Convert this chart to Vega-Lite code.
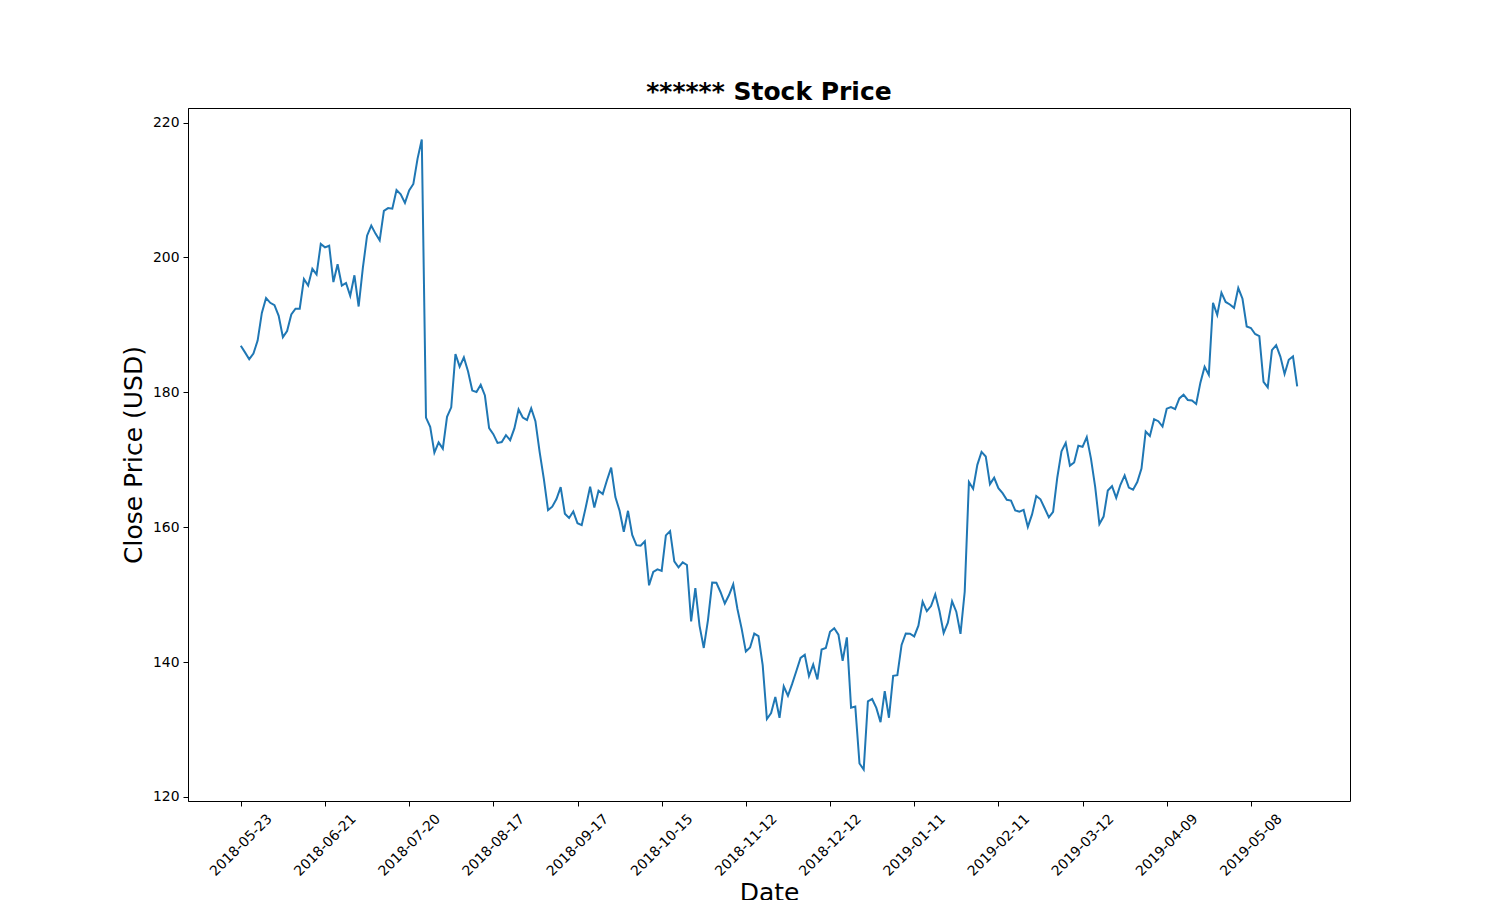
{
  "$schema": "https://vega.github.io/schema/vega-lite/v6.json",
  "autosize": {"type": "none"},
  "width": 1162,
  "height": 693,
  "padding": {"left": 188, "top": 108, "right": 150, "bottom": 99},
  "background": "white",
  "title": {"text": "****** Stock Price", "fontSize": 25, "fontWeight": "bold", "font": "DejaVu Sans", "color": "black", "anchor": "middle", "offset": 3},
  "config": {
    "font": "DejaVu Sans",
    "view": {"stroke": "black", "strokeWidth": 1},
    "axis": {"grid": false, "domainColor": "black", "tickColor": "black", "labelColor": "black", "titleColor": "black", "tickSize": 5, "labelFontSize": 13.9, "titleFontSize": 25, "titleFontWeight": "normal", "labelFont": "DejaVu Sans", "titleFont": "DejaVu Sans"}
  },
  "data": {"values": [
    {"date":"2018-05-23","close":186.90},{"date":"2018-05-24","close":185.93},{"date":"2018-05-25","close":184.92},{"date":"2018-05-29","close":185.74},{"date":"2018-05-30","close":187.67},{"date":"2018-05-31","close":191.78},{"date":"2018-06-01","close":193.99},{"date":"2018-06-04","close":193.28},{"date":"2018-06-05","close":192.94},{"date":"2018-06-06","close":191.34},{"date":"2018-06-07","close":188.18},{"date":"2018-06-08","close":189.10},{"date":"2018-06-11","close":191.54},{"date":"2018-06-12","close":192.40},{"date":"2018-06-13","close":192.41},{"date":"2018-06-14","close":196.81},{"date":"2018-06-15","close":195.85},{"date":"2018-06-18","close":198.31},{"date":"2018-06-19","close":197.49},{"date":"2018-06-20","close":202.00},
    {"date":"2018-06-21","close":201.50},{"date":"2018-06-22","close":201.74},{"date":"2018-06-25","close":196.35},{"date":"2018-06-26","close":199.00},{"date":"2018-06-27","close":195.84},{"date":"2018-06-28","close":196.23},{"date":"2018-06-29","close":194.32},{"date":"2018-07-02","close":197.36},{"date":"2018-07-03","close":192.73},{"date":"2018-07-05","close":198.45},{"date":"2018-07-06","close":203.23},{"date":"2018-07-09","close":204.74},{"date":"2018-07-10","close":203.54},{"date":"2018-07-11","close":202.54},{"date":"2018-07-12","close":206.92},{"date":"2018-07-13","close":207.32},{"date":"2018-07-16","close":207.23},{"date":"2018-07-17","close":209.99},{"date":"2018-07-18","close":209.36},{"date":"2018-07-19","close":208.09},
    {"date":"2018-07-20","close":209.94},{"date":"2018-07-23","close":210.91},{"date":"2018-07-24","close":214.67},{"date":"2018-07-25","close":217.50},{"date":"2018-07-26","close":176.26},{"date":"2018-07-27","close":174.89},{"date":"2018-07-30","close":171.06},{"date":"2018-07-31","close":172.58},{"date":"2018-08-01","close":171.65},{"date":"2018-08-02","close":176.37},{"date":"2018-08-03","close":177.78},{"date":"2018-08-06","close":185.69},{"date":"2018-08-07","close":183.81},{"date":"2018-08-08","close":185.18},{"date":"2018-08-09","close":183.09},{"date":"2018-08-10","close":180.26},{"date":"2018-08-13","close":180.05},{"date":"2018-08-14","close":181.11},{"date":"2018-08-15","close":179.53},{"date":"2018-08-16","close":174.70},
    {"date":"2018-08-17","close":173.80},{"date":"2018-08-20","close":172.50},{"date":"2018-08-21","close":172.62},{"date":"2018-08-22","close":173.64},{"date":"2018-08-23","close":172.90},{"date":"2018-08-24","close":174.65},{"date":"2018-08-27","close":177.46},{"date":"2018-08-28","close":176.26},{"date":"2018-08-29","close":175.90},{"date":"2018-08-30","close":177.64},{"date":"2018-08-31","close":175.73},{"date":"2018-09-04","close":171.16},{"date":"2018-09-05","close":167.18},{"date":"2018-09-06","close":162.53},{"date":"2018-09-07","close":163.04},{"date":"2018-09-10","close":164.18},{"date":"2018-09-11","close":165.94},{"date":"2018-09-12","close":162.00},{"date":"2018-09-13","close":161.36},{"date":"2018-09-14","close":162.32},
    {"date":"2018-09-17","close":160.58},{"date":"2018-09-18","close":160.30},{"date":"2018-09-19","close":163.06},{"date":"2018-09-20","close":166.02},{"date":"2018-09-21","close":162.93},{"date":"2018-09-24","close":165.41},{"date":"2018-09-25","close":164.91},{"date":"2018-09-26","close":166.95},{"date":"2018-09-27","close":168.84},{"date":"2018-09-28","close":164.46},{"date":"2018-10-01","close":162.44},{"date":"2018-10-02","close":159.33},{"date":"2018-10-03","close":162.43},{"date":"2018-10-04","close":158.85},{"date":"2018-10-05","close":157.33},{"date":"2018-10-08","close":157.25},{"date":"2018-10-09","close":157.90},{"date":"2018-10-10","close":151.38},{"date":"2018-10-11","close":153.35},{"date":"2018-10-12","close":153.74},
    {"date":"2018-10-15","close":153.52},{"date":"2018-10-16","close":158.78},{"date":"2018-10-17","close":159.42},{"date":"2018-10-18","close":154.92},{"date":"2018-10-19","close":154.05},{"date":"2018-10-22","close":154.78},{"date":"2018-10-23","close":154.39},{"date":"2018-10-24","close":146.04},{"date":"2018-10-25","close":150.95},{"date":"2018-10-26","close":145.37},{"date":"2018-10-29","close":142.09},{"date":"2018-10-30","close":146.22},{"date":"2018-10-31","close":151.79},{"date":"2018-11-01","close":151.75},{"date":"2018-11-02","close":150.35},{"date":"2018-11-05","close":148.68},{"date":"2018-11-06","close":149.94},{"date":"2018-11-07","close":151.53},{"date":"2018-11-08","close":147.87},{"date":"2018-11-09","close":144.96},
    {"date":"2018-11-12","close":141.55},{"date":"2018-11-13","close":142.16},{"date":"2018-11-14","close":144.22},{"date":"2018-11-15","close":143.85},{"date":"2018-11-16","close":139.53},{"date":"2018-11-19","close":131.55},{"date":"2018-11-20","close":132.43},{"date":"2018-11-21","close":134.82},{"date":"2018-11-23","close":131.73},{"date":"2018-11-26","close":136.38},{"date":"2018-11-27","close":135.00},{"date":"2018-11-28","close":136.76},{"date":"2018-11-29","close":138.68},{"date":"2018-11-30","close":140.61},{"date":"2018-12-03","close":141.09},{"date":"2018-12-04","close":137.93},{"date":"2018-12-06","close":139.63},{"date":"2018-12-07","close":137.42},{"date":"2018-12-10","close":141.85},{"date":"2018-12-11","close":142.08},
    {"date":"2018-12-12","close":144.50},{"date":"2018-12-13","close":145.01},{"date":"2018-12-14","close":144.06},{"date":"2018-12-17","close":140.19},{"date":"2018-12-18","close":143.66},{"date":"2018-12-19","close":133.24},{"date":"2018-12-20","close":133.40},{"date":"2018-12-21","close":124.95},{"date":"2018-12-24","close":124.06},{"date":"2018-12-26","close":134.18},{"date":"2018-12-27","close":134.52},{"date":"2018-12-28","close":133.20},{"date":"2018-12-31","close":131.09},{"date":"2019-01-02","close":135.68},{"date":"2019-01-03","close":131.74},{"date":"2019-01-04","close":137.95},{"date":"2019-01-07","close":138.05},{"date":"2019-01-08","close":142.53},{"date":"2019-01-09","close":144.23},{"date":"2019-01-10","close":144.20},
    {"date":"2019-01-11","close":143.80},{"date":"2019-01-14","close":145.39},{"date":"2019-01-15","close":148.95},{"date":"2019-01-16","close":147.54},{"date":"2019-01-17","close":148.30},{"date":"2019-01-18","close":150.04},{"date":"2019-01-22","close":147.57},{"date":"2019-01-23","close":144.30},{"date":"2019-01-24","close":145.83},{"date":"2019-01-25","close":149.01},{"date":"2019-01-28","close":147.47},{"date":"2019-01-29","close":144.19},{"date":"2019-01-30","close":150.42},{"date":"2019-01-31","close":166.69},{"date":"2019-02-01","close":165.71},{"date":"2019-02-04","close":169.25},{"date":"2019-02-05","close":171.16},{"date":"2019-02-06","close":170.49},{"date":"2019-02-07","close":166.38},{"date":"2019-02-08","close":167.33},
    {"date":"2019-02-11","close":165.79},{"date":"2019-02-12","close":165.04},{"date":"2019-02-13","close":164.07},{"date":"2019-02-14","close":163.95},{"date":"2019-02-15","close":162.50},{"date":"2019-02-19","close":162.29},{"date":"2019-02-20","close":162.56},{"date":"2019-02-21","close":160.04},{"date":"2019-02-22","close":161.89},{"date":"2019-02-25","close":164.62},{"date":"2019-02-26","close":164.13},{"date":"2019-02-27","close":162.81},{"date":"2019-02-28","close":161.45},{"date":"2019-03-01","close":162.28},{"date":"2019-03-04","close":167.37},{"date":"2019-03-05","close":171.26},{"date":"2019-03-06","close":172.51},{"date":"2019-03-07","close":169.13},{"date":"2019-03-08","close":169.60},{"date":"2019-03-11","close":172.07},
    {"date":"2019-03-12","close":171.92},{"date":"2019-03-13","close":173.37},{"date":"2019-03-14","close":170.17},{"date":"2019-03-15","close":165.98},{"date":"2019-03-18","close":160.47},{"date":"2019-03-19","close":161.57},{"date":"2019-03-20","close":165.44},{"date":"2019-03-21","close":166.08},{"date":"2019-03-22","close":164.34},{"date":"2019-03-25","close":166.29},{"date":"2019-03-26","close":167.68},{"date":"2019-03-27","close":165.87},{"date":"2019-03-28","close":165.55},{"date":"2019-03-29","close":166.69},{"date":"2019-04-01","close":168.70},{"date":"2019-04-02","close":174.20},{"date":"2019-04-03","close":173.54},{"date":"2019-04-04","close":176.02},{"date":"2019-04-05","close":175.72},{"date":"2019-04-08","close":174.93},
    {"date":"2019-04-09","close":177.58},{"date":"2019-04-10","close":177.82},{"date":"2019-04-11","close":177.51},{"date":"2019-04-12","close":179.10},{"date":"2019-04-15","close":179.65},{"date":"2019-04-16","close":178.87},{"date":"2019-04-17","close":178.78},{"date":"2019-04-18","close":178.28},{"date":"2019-04-22","close":181.44},{"date":"2019-04-23","close":183.78},{"date":"2019-04-24","close":182.58},{"date":"2019-04-25","close":193.26},{"date":"2019-04-26","close":191.49},{"date":"2019-04-29","close":194.78},{"date":"2019-04-30","close":193.40},{"date":"2019-05-01","close":193.03},{"date":"2019-05-02","close":192.53},{"date":"2019-05-03","close":195.47},{"date":"2019-05-06","close":193.88},{"date":"2019-05-07","close":189.77},
    {"date":"2019-05-08","close":189.54},{"date":"2019-05-09","close":188.65},{"date":"2019-05-10","close":188.34},{"date":"2019-05-13","close":181.54},{"date":"2019-05-14","close":180.73},{"date":"2019-05-15","close":186.27},{"date":"2019-05-16","close":186.99},{"date":"2019-05-17","close":185.30},{"date":"2019-05-20","close":182.72},{"date":"2019-05-21","close":184.82},{"date":"2019-05-22","close":185.32},{"date":"2019-05-23","close":180.87}
  ]},
  "mark": {"type": "line", "color": "#1f77b4", "strokeWidth": 2},
  "encoding": {
    "x": {
      "field": "date", "type": "ordinal", "sort": "ascending",
      "scale": {"type": "point", "padding": 0, "range": [52.8, 1109.2]},
      "axis": {
        "title": "Date", "values": ["2018-05-23","2018-06-21","2018-07-20","2018-08-17","2018-09-17","2018-10-15","2018-11-12","2018-12-12","2019-01-11","2019-02-11","2019-03-12","2019-04-09","2019-05-08"],
        "labelAngle": -45, "labelAlign": "center", "labelBaseline": "middle", "labelPadding": 39, "labelOverlap": false, "labelBound": false, "labelFlush": false, "titlePadding": 2
      }
    },
    "y": {
      "field": "close", "type": "quantitative",
      "scale": {"domain": [119.39, 222.17], "nice": false, "zero": false},
      "axis": {"title": "Close Price (USD)", "values": [120, 140, 160, 180, 200, 220], "labelPadding": 4, "titlePadding": 6}
    }
  }
}
